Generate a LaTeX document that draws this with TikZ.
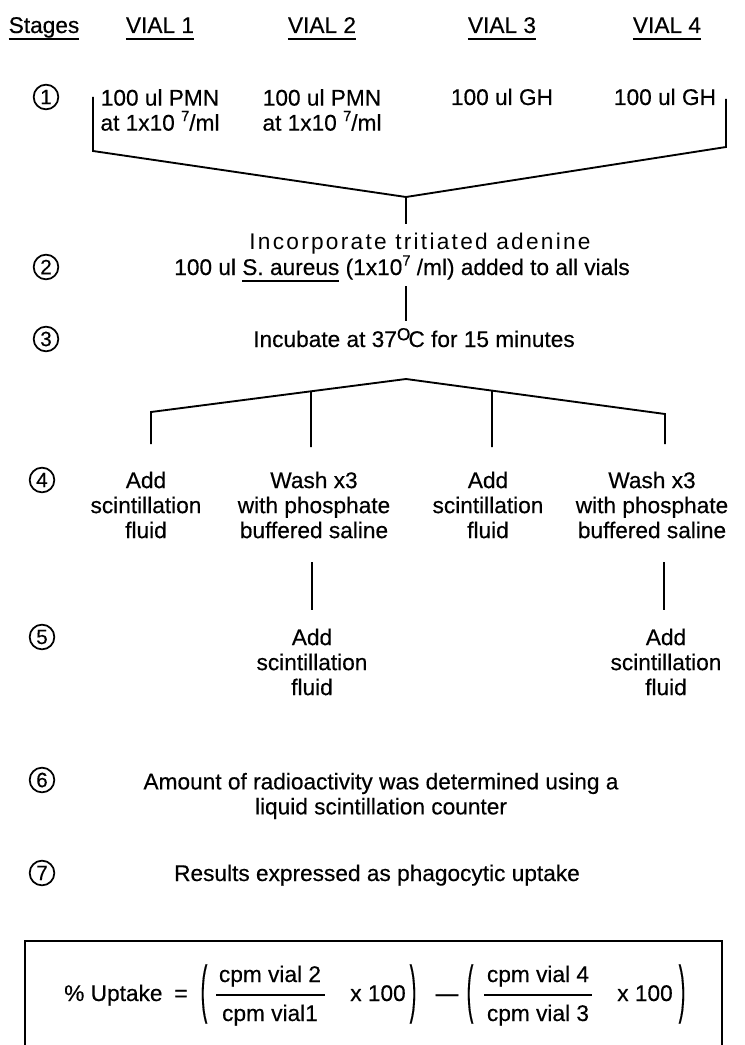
\documentclass[tikz,border=0pt]{standalone}
\usepackage{graphicx}
\usepackage{fontspec}
\setmainfont{Liberation Sans}[FakeBold=0.4]
\newfontfamily\incfont{Liberation Sans}[LetterSpace=10]
\usetikzlibrary{calc}
\newcommand\ulin[1]{\setbox0=\hbox{#1}\rlap{\copy0}\rule[-5pt]{\wd0}{1.6pt}}
\newcommand\supr[1]{\raisebox{0.42em}{\fontsize{11}{11}\selectfont #1}}
\begin{document}
\begin{tikzpicture}[x=0.75pt,y=-0.75pt,
  txt/.style={inner sep=0pt,align=center,font=\fontsize{17}{18.75}\selectfont},
  num/.style={circle,draw,line width=1.3pt,minimum size=18.5pt,inner sep=0pt,font=\fontsize{15.5}{15.5}\selectfont},
  paren/.style={inner sep=0pt,font=\fontsize{17}{18.75}\selectfont},
  conn/.style={line width=1.4pt,line join=miter},
  fracbar/.style={line width=1pt}]
\useasboundingbox (0,0) rectangle (744,1045);

% headers
\node[txt,anchor=base] (hst) at (44,33) {\ulin{Stages}};
\node[txt,anchor=base] (h1) at (160,33) {\ulin{VIAL 1}};
\node[txt,anchor=base] (h2) at (322,33) {\ulin{VIAL 2}};
\node[txt,anchor=base] (h3) at (502,33) {\ulin{VIAL 3}};
\node[txt,anchor=base] (h4) at (667,33) {\ulin{VIAL 4}};

% stage numbers
\node[num] (n1) at (46,97) {1};
\node[num] (n2) at (46,267) {2};
\node[num] (n3) at (46,339) {3};
\node[num] (n4) at (42,480) {4};
\node[num] (n5) at (42,637) {5};
\node[num] (n6) at (42,780) {6};
\node[num] (n7) at (42,873) {7};

% stage 1
\node[txt] (s1a) at (160,110) {100 ul PMN\\at 1x10 \supr{7}/ml};
\node[txt] (s1b) at (322,110) {100 ul PMN\\at 1x10 \supr{7}/ml};
\node[txt,anchor=base] (s1c) at (502,105) {100 ul GH};
\node[txt,anchor=base] (s1d) at (665,105) {100 ul GH};

% bracket 1
\coordinate (b1lt) at (93,97);
\coordinate (b1lb) at (93,151);
\coordinate (b1rt) at (726,99);
\coordinate (b1rb) at (726,147);
\coordinate (ap1) at (406,197);
\coordinate (ap1b) at (406,224);
\draw[conn] (b1lt) -- (b1lb) -- (ap1) -- (b1rb) -- (b1rt);
\draw[conn] (ap1) -- (ap1b);

% stage 2
\node[txt,anchor=base] (inc) at (420,249) {\incfont Incorporate tritiated adenine};
\node[txt,anchor=base] (s2) at (402,275) {100 ul \ulin{S. aureus} (1x10\supr{7} /ml) added to all vials};
\coordinate (v2t) at (406,286);
\coordinate (v2b) at (406,321);
\draw[conn] (v2t) -- (v2b);

% stage 3
\node[txt,anchor=base] (s3) at (414,347) {Incubate at 37\raisebox{0.3em}{\fontsize{13}{13}\selectfont O}\kern-1.5pt C for 15 minutes};
\coordinate (ap2) at (406,379);
\coordinate (l2) at (151,412);
\coordinate (l2b) at (151,444);
\coordinate (r2) at (665,414);
\coordinate (r2b) at (665,444);
\coordinate (k2) at ($(ap2)!0.3725!(l2)$);
\coordinate (k3) at ($(ap2)!0.332!(r2)$);
\coordinate (k2b) at (311,447);
\coordinate (k3b) at (492,447);
\draw[conn] (l2b) -- (l2) -- (ap2) -- (r2) -- (r2b);
\draw[conn] (k2) -- (k2b);
\draw[conn] (k3) -- (k3b);

% stage 4
\node[txt] (c1) at (146,505) {Add\\scintillation\\fluid};
\node[txt] (c2) at (314,505) {Wash x3\\with phosphate\\buffered saline};
\node[txt] (c3) at (488,505) {Add\\scintillation\\fluid};
\node[txt] (c4) at (652,505) {Wash x3\\with phosphate\\buffered saline};

% stage 4 -> 5
\coordinate (d2t) at (312,562);
\coordinate (d2b) at (312,610);
\coordinate (d4t) at (664,562);
\coordinate (d4b) at (664,610);
\draw[conn] (d2t) -- (d2b);
\draw[conn] (d4t) -- (d4b);

% stage 5
\node[txt] (e2) at (312,662) {Add\\scintillation\\fluid};
\node[txt] (e4) at (666,662) {Add\\scintillation\\fluid};

% stage 6, 7
\node[txt] (s6) at (381,796) {Amount of radioactivity was determined using a\\liquid scintillation counter};
\node[txt,anchor=base] (s7) at (377,881) {Results expressed as phagocytic uptake};

% box
\coordinate (bx1) at (25,1045);
\coordinate (bx2) at (25,941);
\coordinate (bx3) at (722,941);
\coordinate (bx4) at (722,1045);
\draw[conn,line width=1.2pt] (bx1) -- (bx2) -- (bx3) -- (bx4);

% equation
\node[txt,anchor=base west] (eqa) at (64,1001) {\% Uptake};
\node[txt,anchor=base] (eqb) at (181,1001) {=};
\node[paren] (p1) at (204,994) {\scalebox{0.9}[2.8]{(}};
\node[txt,anchor=base] (f1n) at (270,982) {cpm vial 2};
\node[txt,anchor=base] (f1d) at (270,1021) {cpm vial1};
\coordinate (f1l) at (216,995);
\coordinate (f1r) at (325,995);
\draw[fracbar] (f1l) -- (f1r);
\node[txt,anchor=base] (x1) at (378,1001) {x 100};
\node[paren] (p2) at (413,994) {\scalebox{0.9}[2.8]{)}};
\node[txt,anchor=base] (mn) at (447,1001) {---};
\node[paren] (p3) at (470,994) {\scalebox{0.9}[2.8]{(}};
\node[txt,anchor=base] (f2n) at (538,982) {cpm vial 4};
\node[txt,anchor=base] (f2d) at (538,1021) {cpm vial 3};
\coordinate (f2l) at (484,995);
\coordinate (f2r) at (592,995);
\draw[fracbar] (f2l) -- (f2r);
\node[txt,anchor=base] (x2) at (645,1001) {x 100};
\node[paren] (p4) at (682,994) {\scalebox{0.9}[2.8]{)}};
\end{tikzpicture}
\end{document}
